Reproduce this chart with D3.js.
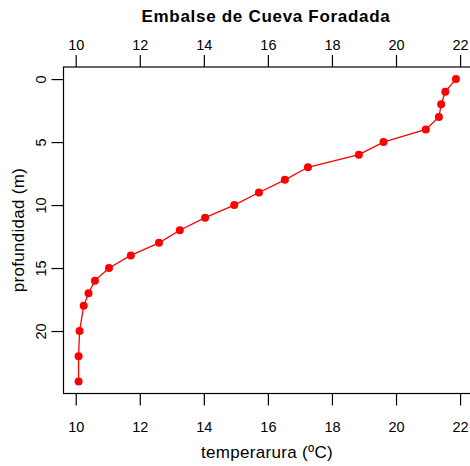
<!DOCTYPE html>
<html><head><meta charset="utf-8">
<script src="https://cdn.jsdelivr.net/npm/d3@7"></script>
<style>body{margin:0;background:#fff}svg{display:block}text{font-family:"Liberation Sans",Arial,sans-serif}</style>
</head><body><svg id="c" width="470" height="466"></svg>
<script>
const title = "Embalse de Cueva Foradada";
const xLabel = "temperarura (ºC)";
const yLabel = "profundidad (m)";
const depth = [0,1,2,3,4,5,6,7,8,9,10,11,12,13,14,15,16,17,18,20,22,24];
const temperature = [21.87,21.54,21.41,21.34,20.93,19.61,18.84,17.25,16.53,15.72,14.95,14.04,13.25,12.6,11.72,11.04,10.6,10.4,10.25,10.12,10.09,10.09];
const xTicks = [10,12,14,16,18,20,22];
const yTicks = [0,5,10,15,20];

const svg = d3.select("#c");
const L = 63.5, T = 67, R = 471, B = 393.5;
const xmin = d3.min(temperature), xmax = d3.max(temperature);
const xpad = (xmax - xmin) * 0.04;
const x = d3.scaleLinear().domain([xmin - xpad, xmax + xpad]).range([L, R]);
const ypad = (d3.max(depth) - d3.min(depth)) * 0.04;
const y = d3.scaleLinear().domain([d3.min(depth) - ypad, d3.max(depth) + ypad]).range([T, B]);

svg.append("rect").attr("x", L).attr("y", T).attr("width", R - L).attr("height", B - T)
  .attr("fill", "none").attr("stroke", "#000").attr("stroke-width", 1.2);

const fs = "14.5px";
const gb = svg.append("g").attr("transform", `translate(0,${B})`)
  .call(d3.axisBottom(x).tickValues(xTicks).tickSize(12).tickPadding(16).tickFormat(d3.format("d")));
const gt = svg.append("g").attr("transform", `translate(0,${T})`)
  .call(d3.axisTop(x).tickValues(xTicks).tickSize(12).tickPadding(5).tickFormat(d3.format("d")));
const gl = svg.append("g").attr("transform", `translate(${L},0)`)
  .call(d3.axisLeft(y).tickValues(yTicks).tickSize(12).tickFormat(d3.format("d")));
[gb, gt, gl].forEach(g => {
  g.select(".domain").remove();
  g.selectAll("line").attr("stroke", "#000").attr("stroke-width", 1.2);
  g.selectAll("text").attr("font-size", fs).attr("fill", "#000").attr("font-family", '"Liberation Sans",Arial,sans-serif');
});
gl.selectAll(".tick text").attr("x", null).attr("dy", null)
  .attr("text-anchor", "middle")
  .attr("transform", "translate(-23,0) rotate(-90)")
  .attr("dy", "0.35em");

const line = d3.line().x((d, i) => x(temperature[i])).y(d => y(d));
svg.append("path").datum(depth).attr("d", line).attr("fill", "none")
  .attr("stroke", "#ff0000").attr("stroke-width", 1.3);
svg.selectAll("circle.p").data(depth).join("circle").attr("class", "p")
  .attr("cx", (d, i) => x(temperature[i])).attr("cy", d => y(d)).attr("r", 4).attr("fill", "#ff0000");

svg.append("text").attr("x", 266).attr("y", 22).attr("text-anchor", "middle")
  .attr("font-size", "17px").attr("letter-spacing", "0.7px").attr("font-weight", "bold").text(title);
svg.append("text").attr("x", 267).attr("y", 458).attr("text-anchor", "middle")
  .attr("font-size", "17px").attr("letter-spacing", "0.3px").text(xLabel);
svg.append("text").attr("transform", "translate(24,230) rotate(-90)").attr("text-anchor", "middle")
  .attr("font-size", "17px").attr("letter-spacing", "0.3px").text(yLabel);
</script></body></html>
